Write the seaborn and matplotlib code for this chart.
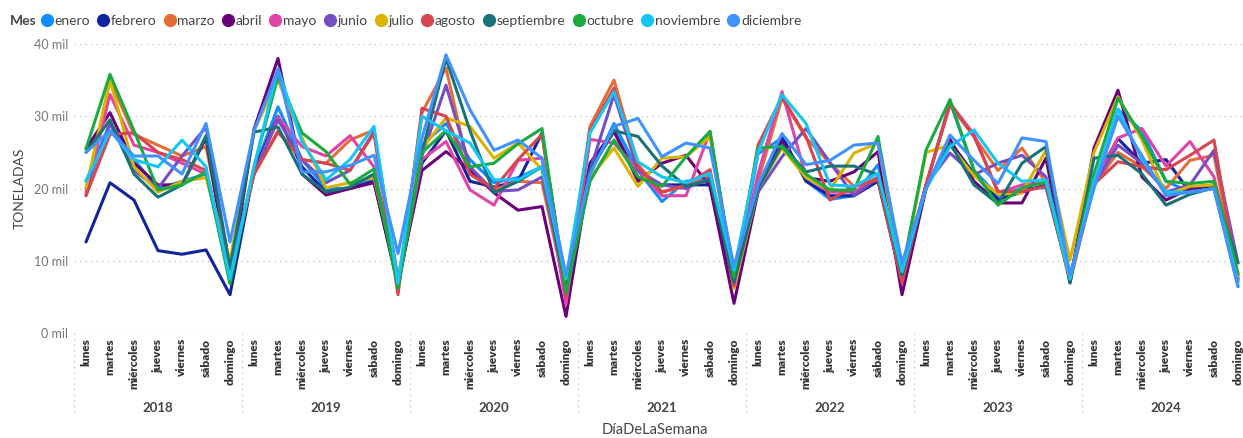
import pandas as pd
import matplotlib.pyplot as plt
import seaborn as sns
from matplotlib.lines import Line2D
import matplotlib.transforms as mtransforms

# Categories
years = ["2018", "2019", "2020", "2021", "2022", "2023", "2024"]
days = ["lunes", "martes", "miércoles", "jueves", "viernes", "sábado", "domingo"]
months = ["enero", "febrero", "marzo", "abril", "mayo", "junio", "julio",
          "agosto", "septiembre", "octubre", "noviembre", "diciembre"]
colors = ["#118DFF", "#12239E", "#E66C37", "#6B007B", "#E044A7", "#744EC2",
          "#D9B300", "#D64550", "#197278", "#1AAB40", "#15C6F4", "#4092FF"]

# Toneladas (miles), 7 dias x 7 años por mes
enero = [21, 29, 24, 20, 21, 22, 8,
         22.5, 31.3, 24, 20, 20, 21.5, 7,
         26, 29, 24, 20.8, 21.5, 23, 6,
         22, 29, 22.5, 18.2, 21, 21.5, 7,
         24.8, 27, 21.1, 18.5, 19, 23.3, 8,
         20.3, 32, 22.5, 19, 20, 20.1, 7.5,
         20.8, 30.9, 28, 21, 19.5, 20, 6.4]
febrero = [12.6, 20.8, 18.4, 11.4, 10.9, 11.5, 5.3,
           22.5, 30, 23, 19.5, 20, 21, 6.5,
           23.5, 28, 21, 20.2, 21, 27.7, 6,
           23.5, 28, 21.5, 20.5, 20.5, 20.5, 6.5,
           20, 27.2, 21, 19, 19, 21, 7,
           20, 26.5, 22, 18.5, 19.5, 20.5, 7.5,
           21, 26.9, 23.5, 24, 19.5, 20.5, 8]
marzo = [19, 35, 27.5, 26, 24.5, 25.8, 9.5,
         22, 28, 24, 23.5, 26.7, 28.1, 6.5,
         30.5, 36.7, 22, 19.8, 21, 20.8, 5.5,
         28.6, 35, 23.3, 19.5, 20.3, 22, 7,
         21, 32.5, 27, 23.5, 20.3, 21.5, 7.5,
         20.5, 31.5, 27.2, 22.5, 25.6, 20.8, 7,
         20.5, 25, 23, 20, 23.9, 24.6, 7.5]
abril = [25.5, 30.5, 23.5, 20.5, 20.5, 27, 7,
         28.2, 38, 22, 19.1, 20, 20.8, 7,
         22.5, 25.1, 22.6, 19.4, 17, 17.5, 2.3,
         22.6, 27.9, 21, 23.5, 24.6, 20.3, 4.1,
         19.5, 26.5, 21.5, 21, 22.3, 25.1, 5.3,
         20, 26.8, 21, 18, 18, 24.2, 7,
         25.6, 33.6, 21.6, 18.4, 20, 20.5, 7.5]
mayo = [19.5, 33, 26, 25, 23.5, 22, 8.5,
        22, 29.9, 25.8, 24.5, 27.3, 23, 7,
        24, 26.5, 19.8, 17.7, 23.9, 24.2, 4,
        26.8, 26.3, 22.5, 19, 19, 27.9, 7,
        22, 33.4, 21.6, 19.5, 19.5, 21.5, 8,
        20.5, 31.8, 27.5, 19.4, 20.5, 20.8, 7.5,
        20.8, 27, 28.3, 23.1, 26.5, 21.6, 8]
junio = [20, 29, 22.5, 20, 24.5, 28.5, 9,
         22, 29.5, 24, 20.8, 22.5, 27.9, 7.5,
         24.5, 34.3, 23, 19.6, 19.8, 21.6, 6.5,
         22.5, 33, 22.5, 20.5, 20, 21.5, 7.5,
         19.5, 24.4, 28.3, 23.6, 19, 21.5, 8,
         20.5, 24.9, 21.9, 23.5, 24.6, 21.6, 8,
         20.5, 26, 23.5, 19.5, 20.5, 25.3, 9.7]
julio = [20, 35, 23, 19.5, 21, 21.5, 10,
         28, 35, 27, 20.1, 20.8, 21.5, 7.5,
         25.5, 29.8, 28.6, 24.2, 26.3, 22.6, 7,
         21.5, 25.6, 20.3, 24.2, 24.4, 27.2, 6.2,
         20, 25.6, 21.5, 19.8, 24.9, 26.3, 8,
         25, 26, 21.8, 19.2, 19.4, 25.3, 10.1,
         25, 32.7, 26.7, 19.1, 20.3, 20.5, 8]
agosto = [19, 27.5, 27.7, 25, 24, 22.5, 8,
          22, 27.8, 24, 23.5, 22.5, 27.7, 5.3,
          31.1, 30, 22, 20, 24, 27.5, 5,
          28, 33.9, 23, 19.5, 20.5, 22.6, 6.5,
          26, 32.7, 27.2, 18.4, 20.3, 21.2, 6.9,
          20.5, 31.8, 27.2, 19.6, 19.6, 20.3, 7.5,
          20.6, 23.7, 23, 22.6, 24.6, 26.7, 7.2]
septiembre = [25, 29.5, 22, 18.8, 20.5, 27.3, 9,
              27.8, 28.5, 22, 19.5, 20.2, 22, 7,
              25, 38, 28, 19.4, 21, 23, 6,
              22.5, 28, 27.2, 23.1, 20.3, 21.2, 7,
              20, 26, 22.3, 23.1, 23.1, 21.9, 8,
              20, 26.3, 20.5, 17.9, 23.5, 25.8, 6.9,
              24.2, 24.6, 22, 17.7, 19.2, 20.1, 9.7]
octubre = [25.5, 35.8, 28, 19.8, 20.5, 22.3, 6.8,
           23, 35.5, 27.7, 25.1, 20.6, 22.7, 6.2,
           25, 28, 23, 23.5, 26.2, 28.3, 5.5,
           21, 26.7, 21.6, 20.3, 24.4, 27.9, 7.8,
           25.6, 25.8, 22, 19.8, 19.8, 27.2, 8.5,
           25.3, 32.3, 22.5, 17.7, 20.1, 20.9, 7.5,
           22, 32.5, 27.2, 21, 20.7, 21, 8.3]
noviembre = [21, 28, 24, 23, 26.7, 23, 7.5,
             23, 36.6, 26.5, 21.2, 24, 28.6, 6.9,
             30, 28, 26.3, 21.2, 21.2, 23, 7.5,
             27.7, 33.4, 23.7, 21.6, 20.8, 22.1, 8.7,
             25, 33, 29, 20.5, 20.3, 22.1, 8.5,
             20, 25.8, 28.1, 23.5, 21, 21.2, 7.5,
             21, 31, 24, 19.5, 19.5, 20, 7]
diciembre = [25, 28, 24.5, 24.5, 22, 29, 12.6,
             28, 36.4, 22.3, 22.3, 23.2, 24.6, 11,
             27, 38.5, 30.9, 25.3, 26.7, 24.2, 8,
             22, 28.6, 29.7, 24.4, 26.3, 25.6, 9.2,
             20.5, 27.6, 23.3, 23.9, 26, 26.3, 9.7,
             20, 27.4, 23.9, 20.7, 27, 26.5, 8,
             20, 30, 24.5, 19, 19.5, 20, 6.5]

series = [enero, febrero, marzo, abril, mayo, junio, julio,
          agosto, septiembre, octubre, noviembre, diciembre]

rows = []
for mes, vals in zip(months, series):
    for i, v in enumerate(vals):
        rows.append({"pos": i, "Mes": mes, "valor": v})
df = pd.DataFrame(rows)

sns.set_style("white")
plt.rcParams["font.family"] = ["Lato", "DejaVu Sans"]

fig = plt.figure(figsize=(12.43, 4.38), dpi=100)
ax = fig.add_axes([74 / 1243, 105 / 438, 1176 / 1243, 289 / 438])

sns.lineplot(data=df, x="pos", y="valor", hue="Mes", hue_order=months,
             palette=dict(zip(months, colors)), linewidth=2.2,
             legend=False, ax=ax)

ax.set_ylim(0, 40)
ax.set_xlim(-0.5, 48.5)
ax.set_yticks([0, 10, 20, 30, 40])
ax.set_yticklabels([f"{t} mil" for t in [0, 10, 20, 30, 40]], color="#777777", fontsize=9)
ax.yaxis.grid(True, linestyle=(0, (1, 3)), color="#C8C8C8", linewidth=1)
ax.set_xticks(range(49))
ax.set_xticklabels(days * len(years), rotation=90, fontsize=8.5,
                   fontweight="heavy", color="#333333", va="top")
ax.tick_params(axis="both", length=0, pad=4)
for s in ax.spines.values():
    s.set_visible(False)
ax.set_xlabel("")
ax.set_ylabel("TONELADAS", fontsize=10, color="#444444", labelpad=6)

# Year groups
trans = mtransforms.blended_transform_factory(ax.transData, ax.transAxes)
for k, y in enumerate(years):
    ax.text(k * 7 + 3, -0.26, y, transform=trans, ha="center", va="center",
            fontsize=9.5, fontweight="bold", color="#444444")
for k in range(len(years) + 1):
    ax.plot([k * 7 - 0.5, k * 7 - 0.5], [0, -0.28], transform=trans,
            clip_on=False, color="#C8C8C8", linestyle=(0, (1, 3)), linewidth=1)

fig.text(655 / 1243, 1 - 430 / 438, "DíaDeLaSemana", ha="center", va="center",
         fontsize=10.5, color="#444444")

# Legend
handles = [Line2D([], [], marker="o", linestyle="", color=c, markersize=8.5) for c in colors]
fig.text(10 / 1243, 1 - 21 / 438, "Mes", fontsize=10, fontweight="bold",
         color="#444444", va="center")
fig.legend(handles, months, loc="center left", bbox_to_anchor=(34 / 1243, 1 - 21 / 438),
           ncol=12, frameon=False, fontsize=10, handletextpad=0.05,
           columnspacing=0.45, handlelength=1.0, borderaxespad=0,
           labelcolor="#444444")

fig.savefig("out.png", dpi=100)
